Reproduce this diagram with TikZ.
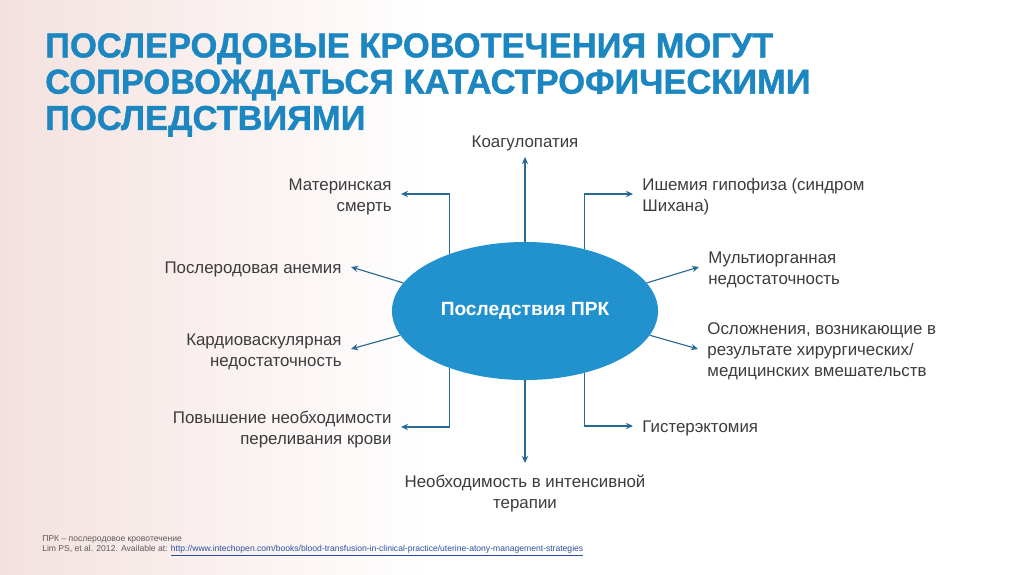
\documentclass[tikz,border=0pt]{standalone}
\usepackage{fontspec}
\setmainfont{Liberation Sans}
\newfontfamily\headfont[FakeBold=1.2]{Liberation Sans}
\usetikzlibrary{arrows.meta,shapes.geometric}
\definecolor{titleblue}{HTML}{1C86C0}
\definecolor{ellblue}{HTML}{2192CE}
\definecolor{arrowblue}{HTML}{276A94}
\definecolor{txtgray}{HTML}{3C3C3C}
\definecolor{notegray}{HTML}{5A5A5A}
\definecolor{linkblue}{HTML}{2B4FA0}
\definecolor{bgpink}{HTML}{F3E1DE}
\tikzset{
  lbl/.style={text=txtgray, font=\fontsize{12}{15}\selectfont, inner xsep=6.5pt, inner ysep=2pt},
  lblL/.style={lbl, anchor=east, align=right},
  lblR/.style={lbl, anchor=west, align=left},
  conn/.style={draw=arrowblue, line width=0.8pt, -{Stealth[length=5pt,width=4.5pt]}},
  note/.style={anchor=west, inner sep=0pt, text=notegray, font=\fontsize{6.1}{8}\selectfont},
}
\begin{document}
\begin{tikzpicture}[x=0.025cm, y=-0.025cm]
  \useasboundingbox (0,0) rectangle (1024,574);
  \fill[white] (0,0) rectangle (1024,574);
  \shade[left color=bgpink, right color=white] (0,0) rectangle (430,574);
  % title
  \node[anchor=north west, align=left, inner sep=0pt, text=titleblue,
    font=\headfont\bfseries\fontsize{24.5}{25.8}\selectfont] (title) at (45,33)
    {ПОСЛЕРОДОВЫЕ КРОВОТЕЧЕНИЯ МОГУТ\\СОПРОВОЖДАТЬСЯ КАТАСТРОФИЧЕСКИМИ\\ПОСЛЕДСТВИЯМИ};
  % centre
  \node[ellipse, fill=ellblue, minimum width=6.65cm, minimum height=3.45cm, inner sep=0pt,
    text=white, font=\bfseries\fontsize{13.6}{15}\selectfont] (prk) at (525,311) {Последствия ПРК};
  % labels
  \node[lbl, anchor=south, inner ysep=4pt] (koag) at (525,157) {Коагулопатия};
  \node[lbl, anchor=north, align=center, inner ysep=8pt] (icu) at (525,463) {Необходимость в интенсивной\\терапии};
  \node[lblL] (death) at (401,196.5) {Материнская\\смерть};
  \node[lblL] (anem) at (351,269.5) {Послеродовая анемия};
  \node[lblL] (cardio) at (351,351.5) {Кардиоваскулярная\\недостаточность};
  \node[lblL] (transf) at (401,429.5) {Повышение необходимости\\переливания крови};
  \node[lblR] (sheehan) at (633,196.5) {Ишемия гипофиза (синдром\\Шихана)};
  \node[lblR] (multi) at (699,269.5) {Мультиорганная\\недостаточность};
  \node[lblR] (compl) at (698,351.5) {Осложнения, возникающие в\\результате хирургических/\\медицинских вмешательств};
  \node[lblR] (hyst) at (633,428.5) {Гистерэктомия};
  % connectors
  \draw[conn] (prk.north) -- (koag.south);
  \draw[conn] (prk.south) -- (icu.north);
  \foreach \a/\n in {143/death, 217/transf} \draw[conn] (prk.\a) |- ([yshift=1.8pt]\n.east);
  \foreach \a/\n in {46/sheehan, 314/hyst} \draw[conn] (prk.\a) |- ([yshift=1.8pt]\n.west);
  \foreach \a/\n in {167/anem, 191/cardio} \draw[conn] (prk.\a) -- ([yshift=1.8pt]\n.east);
  \foreach \a/\n in {13/multi, 349/compl} \draw[conn] (prk.\a) -- ([yshift=1.8pt]\n.west);
  % footnote
  \node[note] (abbr) at (42,539) {ПРК – послеродовое кровотечение};
  \node[note] (ref) at (42,551) {Lim PS, et al. 2012. Available at: \textcolor{linkblue}{\underline{http://www.intechopen.com/books/blood-transfusion-in-clinical-practice/uterine-atony-management-strategies}}};
\end{tikzpicture}
\end{document}
